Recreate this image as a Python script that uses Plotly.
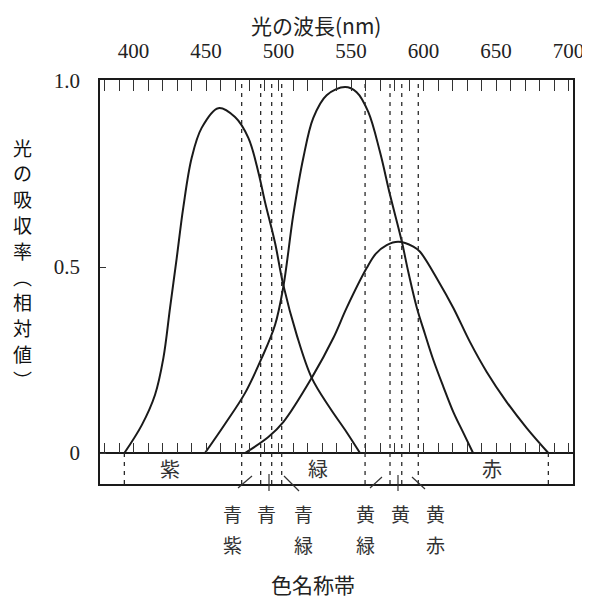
import plotly.graph_objects as go

# ---------------- data ----------------
BLUE_NM = [393.7, 405.7, 414.8, 420.6, 425.2, 429.8, 434.3, 440.1, 447.0, 458.5, 470.0,
           479.2, 486.1, 490.7, 497.6, 503.3, 512.6, 522.9, 535.5, 547.0, 556.2]
BLUE_V = [0.0, 0.075, 0.156, 0.255, 0.390, 0.524, 0.659, 0.793, 0.874, 0.927, 0.903,
          0.847, 0.755, 0.675, 0.565, 0.452, 0.317, 0.202, 0.121, 0.056, 0.0]

GREEN_NM = [449.3, 463.1, 476.9, 488.4, 497.6, 503.3, 510.2, 517.1, 524.0, 533.2, 545.9,
            553.9, 561.9, 570.0, 576.9, 585.0, 589.5, 595.3, 601.0, 606.8, 613.7, 620.6,
            627.5, 634.2]
GREEN_V = [0.0, 0.078, 0.161, 0.255, 0.344, 0.446, 0.640, 0.793, 0.901, 0.962, 0.984,
           0.970, 0.917, 0.809, 0.694, 0.569, 0.487, 0.392, 0.320, 0.250, 0.178, 0.110,
           0.054, 0.0]

RED_NM = [476.9, 493.0, 503.3, 522.9, 537.8, 547.0, 560.8, 567.2, 574.6, 582.6, 593.0,
          597.6, 610.3, 620.6, 632.1, 643.6, 657.4, 671.2, 686.1]
RED_V = [0.0, 0.043, 0.083, 0.202, 0.309, 0.390, 0.497, 0.536, 0.559, 0.568, 0.555,
         0.541, 0.462, 0.390, 0.298, 0.218, 0.137, 0.067, 0.0]

DASH_NM = [474.6, 487.7, 495.3, 502.2, 559.7, 576.9, 585.0, 596.4]   # colour boundaries
BAND_EDGE_NM = [393.7, 686.1]
BAND_NAMES = ["紫", "緑", "赤"]
BAND_NAME_NM = [425.2, 527.2, 647.2]
SUB_NAMES = ["青紫", "青", "青緑", "黄緑", "黄", "黄赤"]
SUB_NAME_NM = [468.6, 491.4, 516.9, 560.3, 583.8, 608.0]

TOP_TICKS = [400, 450, 500, 550, 600, 650, 700]
Y_TICKS = [0, 0.5, 1.0]
Y_TICK_TEXT = ["0", "0.5", "1.0"]

X_TITLE = "光の波長(nm)"
Y_TITLE = "光の吸収率︵相対値︶"
BOTTOM_TITLE = "色名称帯"

# ---------------- layout geometry ----------------
# the page body has an 8px margin, so the figure is drawn 8px smaller/offset
OFF = 8
W, H = 590 - OFF, 603 - OFF
PX0, PX1, PY0, PY1 = 100, 573, 80, 484          # plot area in window pixels
X_RANGE = [376.9, 703.1]
Y_RANGE = [-0.0833, 1.0027]
BAND_Y = -0.0833

def pxx(px):
    return (px - PX0) / (PX1 - PX0)

def pxy(py):
    return (PY1 - py) / (PY1 - PY0)

JP = "Noto Sans CJK JP"
SERIF = "Liberation Serif"
INK = "#1a1a1a"

fig = go.Figure()

for xs, ys in [(BLUE_NM, BLUE_V), (GREEN_NM, GREEN_V), (RED_NM, RED_V)]:
    fig.add_trace(go.Scatter(x=xs, y=ys, mode="lines",
                             line=dict(color=INK, width=2, shape="spline", smoothing=1.0),
                             showlegend=False, hoverinfo="skip"))

# dashed boundary lines
for nm in DASH_NM:
    fig.add_trace(go.Scatter(x=[nm, nm], y=[BAND_Y, 1.0], mode="lines",
                             line=dict(color="#2a2a2a", width=1.3, dash="4px,5px"),
                             showlegend=False, hoverinfo="skip"))
for nm in BAND_EDGE_NM:
    fig.add_trace(go.Scatter(x=[nm, nm], y=[BAND_Y, 0], mode="lines",
                             line=dict(color="#2a2a2a", width=1.3, dash="4px,5px"),
                             showlegend=False, hoverinfo="skip"))

# dummy trace for the tick axis on the zero line
fig.add_trace(go.Scatter(x=[X_RANGE[0]], y=[0], xaxis="x2", mode="markers",
                         marker=dict(opacity=0), showlegend=False, hoverinfo="skip"))

def note(x, y, text, size, color="#333", xref="paper", yref="paper"):
    fig.add_annotation(x=x, y=y, xref=xref, yref=yref, text=text, showarrow=False,
                       xanchor="center", yanchor="middle", align="center", borderpad=0,
                       font=dict(family=JP, size=size, color=color))

# band names
for name, nm in zip(BAND_NAMES, BAND_NAME_NM):
    note(nm, -0.042, name, 20, xref="x", yref="y")

# sub names (vertical, two rows)
for name, nm in zip(SUB_NAMES, SUB_NAME_NM):
    for i, ch in enumerate(name):
        note(nm, pxy(513 + i * 31), ch, 19, xref="x")

# leader strokes under the band
LEADERS_PX = [((238, 488), (252, 476)), ((269, 474), (269, 491)), ((284, 476), (299, 491)),
              ((370, 488), (382, 477)), ((398, 475), (398, 491)), ((412, 477), (425, 489))]
for (x0, y0), (x1, y1) in LEADERS_PX:
    fig.add_shape(type="line", xref="paper", yref="paper",
                  x0=pxx(x0), y0=pxy(y0), x1=pxx(x1), y1=pxy(y1),
                  line=dict(color="#333", width=1.2))

# titles
note(pxx(316), pxy(25), X_TITLE, 21, "#222")
note(pxx(313), pxy(584), BOTTOM_TITLE, 21, "#222")
for i, ch in enumerate(Y_TITLE):
    note(pxx(22), pxy(147 + i * 25.8), ch, 19, "#111")

fig.update_layout(
    width=W, height=H,
    margin=dict(l=PX0 - OFF, r=W - (PX1 - OFF), t=PY0 - OFF, b=H - (PY1 - OFF), pad=0),
    paper_bgcolor="white", plot_bgcolor="white",
    xaxis=dict(range=X_RANGE, side="top", showgrid=False, zeroline=False, automargin=False,
               showline=True, mirror=True, linecolor=INK, linewidth=1.5,
               tickmode="array", tickvals=TOP_TICKS, ticktext=[str(t) for t in TOP_TICKS],
               ticks="inside", ticklen=11, tickcolor="#333", tickwidth=1,
               minor=dict(dtick=10, tick0=0, ticks="inside", ticklen=11, tickcolor="#333"),
               ticklabelstandoff=12,
               tickfont=dict(family=SERIF, size=21, color="#222")),
    xaxis2=dict(range=X_RANGE, matches="x", overlaying="x", anchor="free", automargin=False,
                position=pxy(453), side="top", showgrid=False, zeroline=False,
                showline=False, showticklabels=False, tickmode="linear", tick0=0, dtick=10,
                ticks="outside", ticklen=10, tickcolor="#333", tickwidth=1),
    yaxis=dict(range=Y_RANGE, showgrid=False, zeroline=True, zerolinecolor=INK, automargin=False,
               zerolinewidth=1.5, showline=True, mirror=True, linecolor=INK, linewidth=1.5,
               tickmode="array", tickvals=Y_TICKS, ticktext=Y_TICK_TEXT,
               ticks="inside", ticklen=6, tickcolor="#333",
               ticklabelstandoff=14,
               tickfont=dict(family=SERIF, size=21, color="#222")),
)

fig.write_html("out.html")
